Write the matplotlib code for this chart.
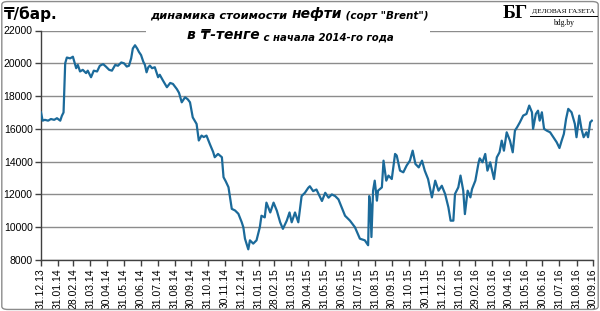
import matplotlib
matplotlib.use("Agg")
import matplotlib.pyplot as plt
from matplotlib.patches import FancyBboxPatch, Rectangle
from matplotlib.text import Annotation
import pandas as pd

# days since 31.12.2013
days = [0, 3, 7, 13, 18, 24, 29, 35, 38, 41, 44, 47, 53, 58, 64, 67, 71, 76, 82, 85,
        91, 96, 102, 107, 113, 118, 124, 129, 135, 140, 146, 151, 156, 160, 164, 167, 171, 175, 178, 182,
        186, 189, 192, 195, 198, 202, 207, 213, 216, 222, 229, 235, 240, 247, 251, 256, 262, 267, 271, 276,
        283, 287, 292, 296, 301, 307, 313, 316, 322, 329, 332, 336, 341, 347, 353, 359, 365, 368, 371, 377,
        380, 386, 392, 398, 401, 407, 410, 417, 423, 429, 435, 440, 447, 452, 456, 462, 468, 474, 480, 486,
        489, 495, 501, 511, 517, 523, 529, 535, 541, 547, 553, 562, 571, 580, 589, 595, 597, 599, 601, 604,
        607, 611, 613, 620, 623, 628, 632, 638, 644, 647, 653, 659, 665, 671, 676, 681, 687, 693, 698, 704,
        711, 717, 723, 729, 735, 741, 745, 750, 753, 759, 763, 768, 771, 776, 781, 784, 790, 796, 798, 803,
        808, 812, 817, 824, 829, 834, 838, 842, 847, 853, 858, 862, 866, 871, 877, 883, 888, 893, 895, 900,
        904, 907, 911, 915, 920, 926, 932, 938, 943, 947, 951, 955, 959, 965, 971, 974, 979, 983, 987, 992,
        995, 999, 1002]

price = [17000, 16500, 16550, 16500, 16600, 16550, 16650, 16500, 16800, 17000, 20000, 20350, 20300, 20400, 19700, 19900, 19500, 19600, 19400, 19550,
         19150, 19550, 19500, 19850, 19950, 19800, 19600, 19550, 19900, 19850, 20050, 20000, 19800, 19850, 20300, 20900, 21100, 20900, 20700, 20500,
         20100, 19900, 19450, 19750, 19860, 19700, 19760, 19150, 19300, 18940, 18540, 18800, 18740, 18430, 18200, 17620, 17930, 17800, 17620, 16700,
         16300, 15290, 15590, 15500, 15590, 15080, 14600, 14270, 14470, 14270, 13050, 12800, 12440, 11120, 11020, 10820, 10310, 10000, 9300, 8650,
         9200, 9000, 9200, 10000, 10700, 10600, 11500, 10900, 11500, 11000, 10300, 9900, 10400, 10900, 10300, 10900, 10300, 11900, 12100, 12400,
         12500, 12200, 12300, 11600, 12100, 11800, 12000, 11900, 11700, 11200, 10700, 10400, 10000, 9300, 9200, 8900, 11900, 11400, 9400, 12230,
         12840, 11620, 12230, 12430, 14060, 12840, 13150, 12940, 14470, 14370, 13450, 13350, 13760, 14060, 14670, 13860, 13650, 14060, 13450, 12940,
         11820, 12840, 12230, 12530, 12030, 11210, 10400, 10400, 12030, 12430, 13150, 12230, 10800, 12230, 11820, 12330, 12840, 13960, 14200, 13960,
         14470, 13450, 13960, 12940, 14260, 14570, 15280, 14670, 15790, 15280, 14570, 15890, 16100, 16400, 16810, 16910, 17420, 17010, 16000, 16910,
         17110, 16500, 17010, 16000, 15890, 15790, 15490, 15180, 14830, 15280, 15690, 16600, 17220, 17010, 16300, 15490, 16810, 16000, 15490, 15790,
         15490, 16400, 16500]

y_ticks = [8000, 10000, 12000, 14000, 16000, 18000, 20000, 22000]
start = pd.Timestamp("2013-12-31")
end = pd.Timestamp("2016-09-30")
month_ticks = pd.date_range(start, end, freq="ME")
tick_labels = [d.strftime("%d.%m.%y") for d in month_ticks]

dates = start + pd.to_timedelta(days, unit="D")

fig = plt.figure(figsize=(6.0, 3.11), dpi=100)
ax = fig.add_axes([41/600, 1 - 260/311, (593-41)/600, (260-30.5)/311])

ax.plot(dates, price, color="#1b6a9a", lw=1.6, zorder=3)

ax.set_ylim(8000, 22000)
ax.set_xlim(start, end)
ax.set_yticks(y_ticks)
ax.set_yticklabels([str(v) for v in y_ticks], fontsize=7.5, family="Liberation Sans")
ax.set_xticks(month_ticks)
ax.set_xticklabels(tick_labels, rotation=90, fontsize=7.5, family="Liberation Sans")
ax.yaxis.grid(True, color="#8c8c8c", lw=1)
ax.set_axisbelow(True)
for s in ["top", "right"]:
    ax.spines[s].set_visible(False)
for s in ["left", "bottom"]:
    ax.spines[s].set_color("#404040")
    ax.spines[s].set_linewidth(1)
ax.tick_params(axis="both", direction="out", length=4, width=1, color="#404040", pad=2)

# white box behind title (covers the top gridline)
fig.add_artist(Rectangle((146/600, 1 - 36/311), (430-146)/600, 36/311,
                         transform=fig.transFigure, facecolor="white", edgecolor="none", zorder=2))

# outer frame
fig.add_artist(FancyBboxPatch((0.003, 0.005), 0.994, 0.99, boxstyle="round,pad=0,rounding_size=0.01",
                              transform=fig.transFigure, facecolor="none", edgecolor="#8c8c8c", lw=1, zorder=5))

fig.text(4/600, 1 - 14/311, "₸/бар.", fontsize=11, fontweight="bold", family="DejaVu Sans",
         va="center", ha="left", zorder=6)

tkw = dict(fontweight="bold", style="italic", family="DejaVu Sans", ha="left", zorder=6)


def chain(prev, s, size):
    a = Annotation(s, xy=(1, 0), xycoords=prev, va="bottom", fontsize=size, **tkw)
    fig.add_artist(a)
    return a


# title line 1
t1 = fig.text(150/600, 1 - 19/311, "динамика стоимости ", fontsize=8.2, va="baseline", **tkw)
t2 = chain(t1, "нефти", 10)
t3 = chain(t2, " (сорт \"Brent\")", 7.5)
# title line 2
u1 = fig.text(187/600, 1 - 39/311, "в ₸-тенге", fontsize=10, va="baseline", **tkw)
u2 = chain(u1, " с начала 2014-го года", 7.3)

# logo
fig.text(515/600, 1 - 14/311, "БГ", fontsize=14, fontweight="bold", family="Liberation Serif",
         va="center", ha="center", zorder=6)
fig.text(563/600, 1 - 11/311, "ДЕЛОВАЯ ГАЗЕТА", fontsize=5.3, family="Liberation Serif",
         va="center", ha="center", zorder=6)
fig.add_artist(plt.Line2D([530/600, 597/600], [1 - 16/311, 1 - 16/311], transform=fig.transFigure,
                          color="black", lw=0.7, zorder=6))
fig.text(564/600, 1 - 23/311, "bdg.by", fontsize=5.5, family="Liberation Serif",
         va="center", ha="center", zorder=6)

fig.savefig("out.png", dpi=100)
